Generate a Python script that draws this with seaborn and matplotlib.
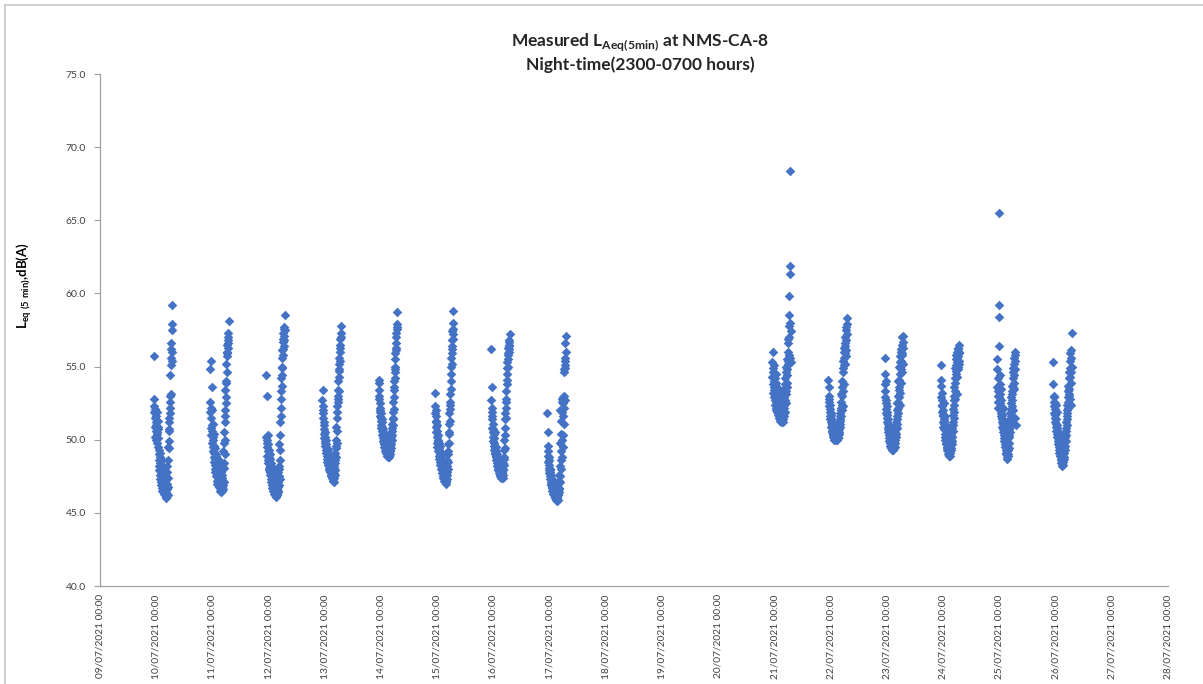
import numpy as np
import pandas as pd
import matplotlib
matplotlib.use("Agg")
import matplotlib.pyplot as plt
import matplotlib.dates as mdates
from matplotlib.lines import Line2D
import seaborn as sns

# ---------------- data ----------------
night_start_dates = ["2021-07-09", "2021-07-10", "2021-07-11", "2021-07-12",
                     "2021-07-13", "2021-07-14", "2021-07-15", "2021-07-16",
                     "2021-07-20", "2021-07-21", "2021-07-22", "2021-07-23",
                     "2021-07-24", "2021-07-25"]

# 5-minute LAeq values, 23:00 -> 06:55 (96 per night)
night_01 = [55.7, 52.8, 51.9, 52.3, 51.5, 50.9, 51.8, 52.1, 50.2, 51.0, 51.6, 50.6,
            51.2, 50.0, 50.8, 51.9, 50.4, 49.8, 50.5, 51.3, 50.1, 49.5, 50.7, 50.9,
            49.0, 48.6, 49.3, 48.2, 47.9, 48.8, 49.1, 47.6, 48.4, 47.3, 48.0, 47.1,
            47.8, 46.9, 47.5, 48.3, 47.2, 46.7, 47.9, 48.6, 46.5, 47.4, 48.1, 47.0,
            46.8, 47.6, 46.3, 47.2, 48.0, 46.6, 47.1, 46.2, 47.7, 46.9, 46.4, 47.3,
            46.1, 46.7, 47.5, 46.0, 46.4, 47.0, 48.2, 46.3, 47.8, 46.6, 49.5, 46.2,
            47.4, 48.6, 46.8, 50.6, 49.4, 51.2, 49.9, 51.5, 50.7, 52.2, 51.8, 53.0,
            52.6, 54.4, 53.1, 55.1, 56.2, 55.6, 56.6, 57.5, 56.0, 57.9, 55.4, 59.2]
night_02 = [54.8, 52.6, 51.9, 55.4, 52.2, 50.8, 51.5, 50.3, 53.6, 51.0, 49.8, 52.0,
            50.6, 49.5, 50.2, 51.1, 49.2, 50.0, 48.8, 49.6, 50.4, 48.5, 49.1, 48.3,
            49.4, 48.0, 48.7, 47.8, 49.0, 48.2, 47.5, 48.9, 47.9, 48.4, 47.2, 48.1,
            47.6, 48.5, 47.0, 47.9, 48.3, 46.9, 47.4, 48.0, 47.1, 46.8, 47.7, 48.6,
            47.3, 46.7, 47.9, 46.5, 47.2, 48.2, 46.9, 47.5, 46.6, 47.8, 46.4, 47.0,
            46.8, 47.4, 46.5, 47.6, 46.9, 47.2, 48.0, 46.6, 49.2, 48.4, 47.1, 49.8,
            48.1, 50.5, 49.0, 51.2, 50.0, 52.0, 51.6, 53.4, 52.5, 53.9, 52.9, 54.0,
            55.2, 54.6, 56.0, 55.7, 56.5, 55.9, 57.0, 56.3, 56.8, 57.3, 56.6, 58.1]
night_03 = [54.4, 50.2, 53.0, 49.8, 50.0, 49.5, 48.9, 50.3, 49.2, 48.6, 49.7, 48.4,
            48.8, 49.3, 48.1, 48.5, 47.9, 48.7, 49.0, 47.6, 48.2, 47.8, 48.4, 47.3,
            47.7, 48.0, 47.1, 47.5, 46.9, 47.8, 47.2, 46.7, 47.4, 48.1, 46.8, 47.0,
            46.5, 47.3, 46.9, 46.3, 47.6, 46.6, 47.1, 46.4, 46.8, 47.5, 46.2, 47.0,
            46.7, 46.1, 47.2, 46.5, 46.9, 46.3, 47.4, 46.6, 46.2, 47.0, 46.8, 46.4,
            47.1, 46.5, 47.8, 46.9, 48.2, 47.5, 49.7, 48.0, 47.3, 49.3, 48.6, 51.2,
            50.3, 52.8, 51.6, 53.3, 52.2, 54.2, 53.7, 55.0, 54.4, 55.6, 54.9, 56.1,
            55.8, 56.7, 56.2, 57.3, 56.9, 57.6, 57.1, 56.4, 57.7, 56.8, 57.5, 58.5]
night_04 = [52.7, 53.4, 52.0, 51.8, 51.5, 52.3, 50.7, 51.2, 50.4, 51.0, 50.1, 49.8,
            50.5, 49.6, 49.9, 50.2, 49.3, 49.7, 50.0, 49.1, 49.5, 48.9, 49.4, 48.7,
            49.2, 48.5, 49.0, 48.8, 48.3, 49.3, 48.6, 48.1, 48.9, 48.4, 47.9, 48.6,
            48.2, 48.7, 47.8, 48.4, 48.0, 47.6, 48.5, 47.9, 48.2, 47.5, 48.1, 47.7,
            47.9, 47.4, 48.3, 47.6, 47.2, 48.0, 47.5, 47.8, 47.3, 48.1, 47.1, 47.7,
            47.4, 48.2, 47.6, 48.6, 47.9, 49.1, 48.4, 49.6, 48.8, 50.0, 49.4, 50.9,
            49.8, 51.5, 50.6, 52.3, 51.9, 53.0, 52.6, 53.4, 52.8, 54.0, 53.3, 54.8,
            54.3, 55.2, 54.7, 55.6, 56.0, 55.4, 56.5, 56.9, 56.3, 57.3, 57.0, 57.8]
night_05 = [53.9, 54.1, 53.4, 52.8, 53.0, 52.2, 51.9, 52.5, 51.6, 52.0, 51.3, 51.8,
            51.0, 51.5, 50.8, 51.2, 50.6, 50.9, 51.4, 50.3, 50.7, 50.1, 50.5, 49.9,
            50.4, 49.7, 50.2, 49.5, 50.0, 49.8, 49.4, 50.3, 49.6, 49.2, 49.9, 49.5,
            49.1, 49.7, 49.3, 49.8, 49.0, 49.5, 49.2, 48.9, 49.6, 49.3, 48.8, 49.4,
            49.0, 49.5, 49.2, 48.9, 49.7, 49.1, 49.4, 48.8, 49.3, 49.8, 49.0, 49.6,
            49.2, 49.9, 49.4, 50.2, 49.7, 50.5, 50.0, 50.8, 50.3, 51.1, 50.6, 51.5,
            51.0, 51.9, 51.4, 52.6, 52.1, 53.4, 52.9, 54.0, 53.6, 54.6, 54.2, 55.0,
            54.8, 55.5, 55.9, 56.3, 56.6, 56.1, 57.0, 57.3, 57.6, 57.9, 57.7, 58.7]
night_06 = [53.2, 52.3, 51.8, 52.0, 51.3, 51.6, 50.9, 51.2, 50.5, 51.0, 50.2, 49.8,
            50.6, 49.5, 50.3, 49.9, 49.2, 50.0, 49.7, 48.9, 49.4, 49.8, 48.7, 49.3,
            49.0, 48.5, 49.6, 48.8, 48.3, 49.1, 48.6, 48.0, 48.9, 48.4, 47.9, 48.7,
            48.2, 47.7, 48.5, 48.0, 47.5, 48.3, 47.8, 47.4, 48.1, 47.6, 47.2, 47.9,
            47.5, 48.0, 47.3, 47.8, 47.1, 47.6, 47.4, 47.0, 47.7, 47.2, 47.5, 47.1,
            47.8, 47.3, 48.2, 47.6, 48.6, 48.0, 49.0, 48.5, 49.7, 49.2, 50.4, 49.8,
            51.1, 50.5, 51.8, 51.3, 52.6, 52.1, 53.1, 52.4, 54.0, 53.5, 54.5, 55.0,
            55.6, 55.2, 56.4, 55.9, 56.8, 56.2, 57.4, 56.9, 58.0, 57.2, 57.6, 58.8]
night_07 = [56.2, 52.7, 53.6, 51.9, 52.2, 51.4, 50.8, 51.6, 50.5, 51.1, 50.2, 50.7,
            49.9, 50.4, 49.6, 50.1, 49.3, 49.8, 50.5, 49.1, 49.6, 49.0, 49.4, 48.8,
            49.2, 48.6, 49.5, 48.9, 48.4, 49.0, 48.7, 48.2, 48.8, 48.5, 48.0, 48.6,
            48.3, 47.9, 48.7, 48.1, 47.7, 48.4, 48.0, 47.6, 48.2, 47.8, 47.5, 48.1,
            47.7, 48.3, 47.5, 47.9, 47.4, 48.0, 47.6, 47.8, 47.5, 48.2, 47.7, 47.4,
            48.0, 47.6, 48.4, 47.9, 48.8, 48.3, 49.3, 48.7, 50.0, 49.4, 51.4, 50.3,
            51.8, 50.8, 52.6, 51.5, 53.3, 52.2, 52.8, 53.8, 54.5, 54.1, 54.9, 55.3,
            55.0, 55.8, 55.5, 56.3, 55.9, 56.7, 56.2, 56.0, 56.5, 56.8, 56.4, 57.2]
night_08 = [51.8, 49.6, 50.5, 48.9, 49.2, 48.5, 48.8, 48.1, 48.6, 47.9, 48.3, 47.7,
            48.0, 47.5, 47.8, 47.3, 47.9, 47.1, 47.6, 46.9, 47.4, 47.0, 46.7, 47.2,
            46.8, 47.3, 46.5, 47.0, 46.6, 46.9, 46.3, 46.7, 47.1, 46.4, 46.8, 46.2,
            46.6, 46.1, 46.9, 46.4, 46.0, 46.7, 46.3, 45.9, 46.5, 46.2, 46.8, 46.0,
            46.4, 45.8, 46.6, 46.1, 46.9, 46.3, 45.9, 46.5, 46.2, 47.0, 46.4, 46.7,
            47.2, 46.6, 47.6, 52.0, 47.1, 48.2, 47.5, 49.8, 48.0, 50.4, 48.6, 49.2,
            51.3, 48.8, 52.6, 50.0, 52.8, 51.9, 50.3, 52.5, 51.6, 49.5, 52.9, 51.1,
            54.6, 52.2, 54.8, 53.0, 55.1, 55.6, 52.7, 56.6, 54.9, 55.4, 57.1, 56.0]
night_09 = [54.3, 55.3, 53.8, 56.0, 54.6, 53.2, 54.9, 53.6, 55.1, 52.9, 54.0, 53.4,
            53.0, 54.2, 52.7, 53.5, 52.4, 53.9, 52.2, 53.1, 52.6, 54.5, 52.0, 53.3,
            52.8, 52.1, 53.6, 51.9, 52.5, 53.0, 51.7, 52.3, 52.9, 51.5, 52.2, 52.7,
            51.8, 52.4, 51.4, 53.2, 51.6, 52.0, 51.3, 52.6, 51.9, 51.2, 52.3, 51.7,
            52.1, 51.5, 52.8, 51.3, 51.9, 52.5, 51.4, 52.0, 51.2, 53.0, 51.8, 52.4,
            51.6, 52.9, 52.2, 53.5, 52.6, 51.9, 53.8, 52.7, 54.2, 53.3, 52.5, 54.6,
            53.1, 55.0, 53.9, 54.4, 55.5, 53.6, 54.8, 56.0, 55.2, 56.6, 55.4, 56.9,
            57.8, 55.8, 58.5, 59.8, 57.0, 61.3, 55.6, 61.9, 58.0, 68.4, 57.4, 55.3]
night_10 = [54.1, 53.6, 52.8, 53.0, 52.3, 52.6, 51.9, 52.4, 51.6, 52.1, 51.4, 51.8,
            51.2, 51.7, 50.9, 51.5, 50.8, 51.3, 50.6, 51.0, 50.5, 51.1, 50.4, 50.8,
            50.3, 50.7, 50.2, 50.9, 50.1, 50.6, 50.4, 50.0, 50.5, 50.2, 50.8, 50.1,
            50.4, 50.0, 50.6, 50.3, 50.1, 50.7, 50.2, 50.5, 50.0, 50.4, 50.9, 50.3,
            50.1, 50.6, 50.2, 50.8, 50.4, 51.0, 50.5, 51.2, 50.7, 51.4, 50.9, 51.6,
            51.1, 51.8, 51.3, 52.2, 51.6, 52.6, 52.0, 53.1, 52.4, 52.0, 53.6, 53.0,
            54.0, 53.3, 54.6, 52.3, 54.9, 55.4, 53.8, 55.1, 56.0, 55.6, 56.3, 55.9,
            56.6, 55.2, 57.0, 56.4, 57.7, 56.8, 55.7, 57.5, 56.1, 57.9, 57.2, 58.3]
night_11 = [55.6, 54.5, 53.8, 52.9, 53.3, 52.5, 54.0, 52.1, 52.7, 51.8, 52.3, 51.5,
            51.9, 51.2, 51.7, 50.9, 51.4, 50.7, 51.1, 50.5, 50.9, 50.3, 50.8, 50.1,
            50.6, 49.9, 50.4, 49.8, 50.2, 49.6, 50.0, 49.7, 50.3, 49.5, 49.9, 49.4,
            49.8, 49.5, 50.1, 49.3, 49.7, 49.6, 49.4, 50.0, 49.5, 49.3, 49.8, 49.6,
            49.4, 50.1, 49.7, 49.5, 50.3, 49.8, 50.5, 50.0, 50.7, 50.2, 51.0, 50.4,
            51.2, 50.8, 51.6, 51.1, 52.0, 51.4, 52.5, 51.8, 53.0, 52.2, 54.0, 52.6,
            53.4, 52.9, 54.1, 53.6, 55.0, 53.2, 54.5, 55.3, 52.4, 55.7, 54.8, 56.0,
            55.4, 56.2, 53.9, 55.8, 56.5, 54.6, 57.0, 55.9, 56.7, 55.2, 57.1, 56.3]
night_12 = [55.1, 54.1, 53.7, 52.9, 53.2, 52.4, 52.7, 51.9, 52.3, 51.6, 52.0, 51.2,
            51.7, 50.9, 51.4, 51.1, 52.5, 50.7, 51.3, 50.4, 50.9, 50.2, 51.6, 50.0,
            50.6, 49.8, 50.3, 51.0, 49.7, 50.1, 49.5, 50.5, 49.3, 49.9, 49.4, 50.2,
            49.2, 49.7, 49.0, 49.5, 49.1, 49.8, 48.9, 49.4, 49.0, 49.6, 49.2, 48.9,
            49.5, 49.1, 49.8, 49.3, 50.0, 49.4, 50.3, 49.7, 50.5, 49.9, 50.8, 50.2,
            51.2, 50.6, 51.7, 51.0, 52.1, 51.5, 52.7, 51.9, 53.0, 52.4, 53.6, 52.8,
            54.2, 53.3, 54.9, 53.9, 55.1, 54.5, 55.5, 54.7, 55.8, 53.1, 55.3, 56.0,
            55.6, 54.3, 56.2, 55.0, 55.7, 54.8, 56.3, 55.4, 56.0, 55.2, 55.9, 56.5]
night_13 = [55.5, 54.8, 53.6, 54.2, 53.0, 52.6, 53.3, 52.2, 52.9, 65.5, 59.2, 56.4,
            58.4, 54.4, 53.8, 52.1, 53.1, 52.5, 51.8, 53.5, 52.3, 51.6, 52.7, 51.4,
            52.0, 51.2, 51.7, 50.9, 51.5, 52.2, 50.7, 51.1, 50.5, 51.3, 50.3, 50.8,
            50.1, 50.6, 49.9, 50.4, 49.7, 50.2, 49.5, 50.0, 49.3, 49.8, 49.1, 49.6,
            49.0, 49.4, 48.8, 49.2, 48.7, 49.5, 48.9, 49.3, 49.7, 49.0, 50.1, 49.4,
            50.3, 49.8, 50.7, 50.2, 51.0, 50.5, 51.4, 50.9, 51.8, 51.2, 52.1, 51.6,
            52.5, 51.9, 52.9, 52.3, 53.3, 52.7, 53.7, 53.1, 54.2, 53.6, 54.6, 52.0,
            54.9, 53.9, 55.2, 54.4, 55.6, 53.5, 56.0, 54.8, 55.4, 51.5, 55.8, 51.0]
night_14 = [55.3, 53.8, 52.6, 53.0, 52.3, 52.9, 51.8, 52.5, 51.5, 52.1, 51.2, 51.7,
            52.4, 50.9, 51.4, 50.6, 51.1, 51.9, 50.4, 50.8, 50.2, 51.0, 49.9, 50.5,
            50.1, 49.7, 50.6, 49.5, 50.0, 49.3, 49.8, 50.3, 49.1, 49.6, 49.0, 49.4,
            48.9, 49.5, 48.7, 49.2, 48.6, 49.0, 48.4, 48.9, 48.2, 48.7, 48.5, 49.1,
            48.6, 48.3, 48.9, 48.5, 49.2, 48.7, 49.4, 48.8, 49.6, 49.1, 49.9, 49.3,
            50.2, 49.6, 50.5, 49.9, 50.8, 50.3, 51.2, 50.6, 51.6, 51.0, 52.0, 51.4,
            52.4, 51.8, 52.9, 52.2, 53.3, 52.6, 53.7, 53.0, 54.2, 53.5, 54.6, 53.1,
            54.9, 52.8, 55.4, 54.3, 55.9, 53.9, 56.1, 54.6, 55.6, 52.4, 57.3, 55.0]

nights = [night_01, night_02, night_03, night_04, night_05, night_06, night_07,
          night_08, night_09, night_10, night_11, night_12, night_13, night_14]

y_ticks = [40.0, 45.0, 50.0, 55.0, 60.0, 65.0, 70.0, 75.0]
x_start, x_end = "2021-07-09", "2021-07-28"

# ---------------- frame ----------------
frames = []
for d, vals in zip(night_start_dates, nights):
    t = pd.date_range(pd.Timestamp(d) + pd.Timedelta(hours=23), periods=len(vals), freq="5min")
    frames.append(pd.DataFrame({"time": t, "laeq": vals}))
df = pd.concat(frames, ignore_index=True)

# ---------------- style ----------------
sns.set_theme(style="white")
plt.rcParams["font.family"] = ["Lato", "DejaVu Sans"]
plt.rcParams["mathtext.fontset"] = "custom"
plt.rcParams["mathtext.rm"] = "Lato"
plt.rcParams["mathtext.bf"] = "Lato:bold"

W, H = 1203, 684
AX_L, AX_R, AX_T, AX_B = 100, 1168, 74, 586
fig = plt.figure(figsize=(W / 100, H / 100), dpi=100)
ax = fig.add_axes([AX_L / W, 1 - AX_B / H, (AX_R - AX_L) / W, (AX_B - AX_T) / H])

sns.scatterplot(data=df, x="time", y="laeq", ax=ax, marker="D", s=24,
                color="#4472C4", linewidth=0, legend=False)

ax.set_xlim(pd.Timestamp(x_start), pd.Timestamp(x_end))
ax.set_ylim(y_ticks[0], y_ticks[-1])
ax.set_yticks(y_ticks)
ax.yaxis.set_major_formatter(matplotlib.ticker.FormatStrFormatter("%.1f"))
ax.xaxis.set_major_locator(mdates.DayLocator())
ax.xaxis.set_major_formatter(mdates.DateFormatter("%d/%m/%Y %H:%M"))

spine_col = "#A0A0A0"
for side in ["top", "right"]:
    ax.spines[side].set_visible(False)
for side in ["left", "bottom"]:
    ax.spines[side].set_color(spine_col)
    ax.spines[side].set_linewidth(0.9)

ax.tick_params(axis="y", which="major", left=True, length=4, width=0.8,
               color=spine_col, labelsize=7.5, labelcolor="#404040", pad=6)
ax.tick_params(axis="x", which="major", bottom=False, length=0, labelsize=7.3,
               labelcolor="#404040", pad=6, labelrotation=90)

ax.set_xlabel("")
ax.set_ylabel(r"L$_{\mathbf{eq\ (5\ min)}}$,dB(A)", fontsize=9.5, fontweight="bold",
              color="black")
ax.yaxis.set_label_coords((34 - AX_L) / (AX_R - AX_L), (AX_B - 286) / (AX_B - AX_T))

fig.text(640 / W, 1 - 42 / H, r"Measured L$_{\mathbf{Aeq(5min)}}$ at NMS-CA-8",
         ha="center", va="center", fontsize=12.5, fontweight="bold")
fig.text(640 / W, 1 - 65 / H, "Night-time(2300-0700 hours)",
         ha="center", va="center", fontsize=12.5, fontweight="bold")

# outer chart-area border (top and left edges)
border_col = "#C8C8C8"
fig.add_artist(Line2D([5 / W, 1.0], [1 - 5 / H, 1 - 5 / H], transform=fig.transFigure,
                      color=border_col, linewidth=1.2))
fig.add_artist(Line2D([5 / W, 5 / W], [1 - 5 / H, 0.0], transform=fig.transFigure,
                      color=border_col, linewidth=1.2))

fig.savefig("out.png", dpi=100)
